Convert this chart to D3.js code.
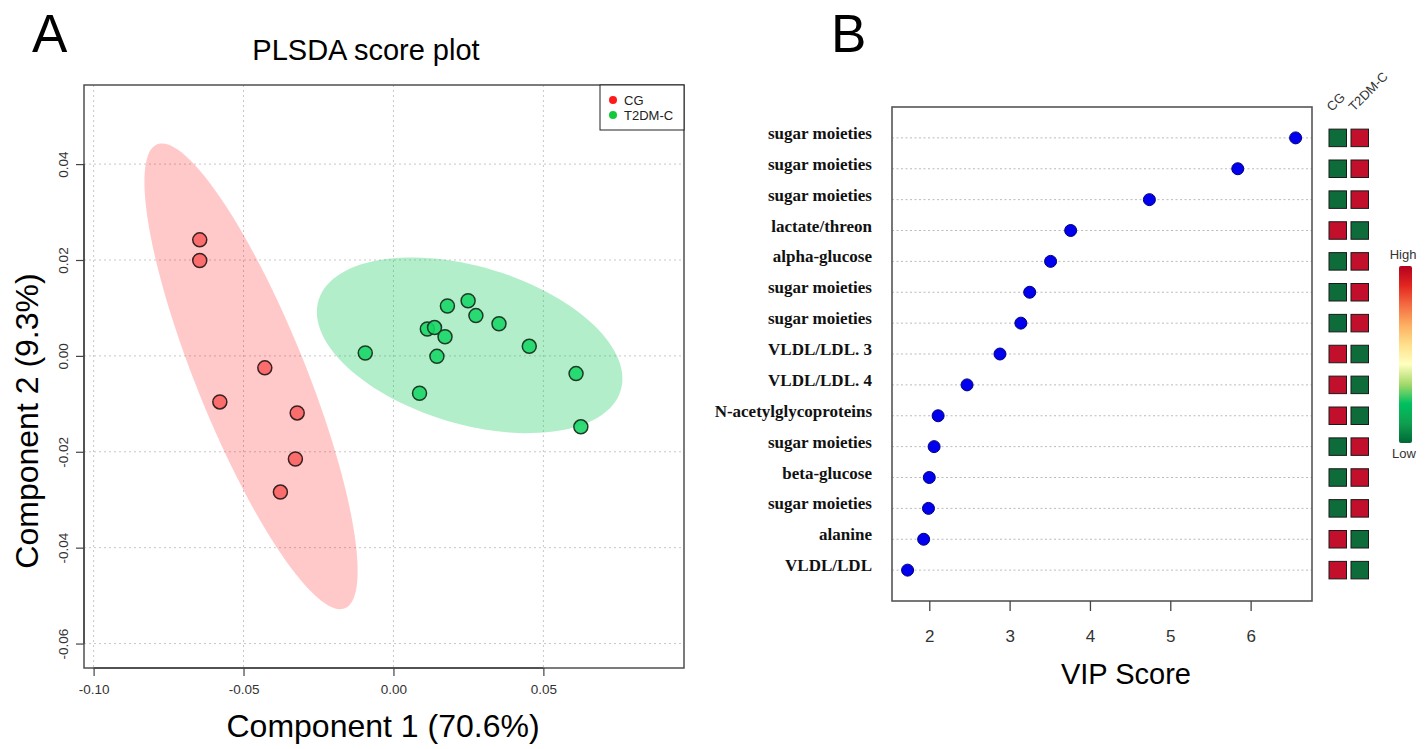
<!DOCTYPE html>
<html><head><meta charset="utf-8">
<script src="https://cdn.jsdelivr.net/npm/d3@7"></script>
<style>body{margin:0;background:#fff} svg{display:block}</style>
</head><body><svg id="c" width="1425" height="749"></svg>
<script>
// ---------- Panel A data (PLS-DA scores) ----------
const groups = ["CG", "T2DM-C"];
const cgX = [-0.0646, -0.0646, -0.0429, -0.0579, -0.0321, -0.0327, -0.0377];
const cgY = [0.0242, 0.0199, -0.0025, -0.0096, -0.0119, -0.0215, -0.0284];
const t2dmX = [-0.0094, 0.0087, 0.0113, 0.0137, 0.0172, 0.0145, 0.0180, 0.0249, 0.0275, 0.0352, 0.0453, 0.0609, 0.0625];
const t2dmY = [0.0006, -0.0078, 0.0056, 0.0059, 0.0040, -0.0001, 0.0104, 0.0115, 0.0084, 0.0067, 0.0020, -0.0037, -0.0148];
const plsXTicks = [-0.10, -0.05, 0.00, 0.05];
const plsYTicks = [-0.06, -0.04, -0.02, 0.00, 0.02, 0.04];
const plsXDomain = [-0.1032, 0.0969];
const plsYDomain = [-0.0651, 0.0565];

// ---------- Panel B data (VIP scores) ----------
const metabolites = ["sugar moieties", "sugar moieties", "sugar moieties", "lactate/threon", "alpha-glucose",
  "sugar moieties", "sugar moieties", "VLDL/LDL. 3", "VLDL/LDL. 4", "N-acetylglycoproteins",
  "sugar moieties", "beta-glucose", "sugar moieties", "alanine", "VLDL/LDL"];
const vipScores = [6.56, 5.84, 4.74, 3.76, 3.51, 3.25, 3.14, 2.88, 2.47, 2.11, 2.06, 2.00, 1.99, 1.93, 1.73];
const cgLevel   = [0, 0, 0, 1, 0, 0, 0, 1, 1, 1, 0, 0, 0, 1, 1];
const t2dmLevel = [1, 1, 1, 0, 1, 1, 1, 0, 0, 0, 1, 1, 1, 0, 0];
const vipTicks = [2, 3, 4, 5, 6];
const vipDomain = [1.536, 6.764];

const svg = d3.select("#c");
const SANS = "'Liberation Sans', Arial, sans-serif";
const SERIF = "'Liberation Serif', 'Times New Roman', serif";

// ================= Panel A =================
const A = {l: 84, r: 684, t: 85, b: 668};
const x = d3.scaleLinear().domain(plsXDomain).range([A.l, A.r]);
const y = d3.scaleLinear().domain(plsYDomain).range([A.b, A.t]);

svg.append("text").attr("x", 32).attr("y", 52).attr("font-family", SANS)
  .attr("font-size", 53).text("A");
svg.append("text").attr("x", 366).attr("y", 60).attr("text-anchor", "middle")
  .attr("font-family", SANS).attr("font-size", 29).text("PLSDA score plot");

// grid
const gA = svg.append("g");
gA.selectAll(".gx").data(plsXTicks).join("line")
  .attr("x1", d => x(d)).attr("x2", d => x(d)).attr("y1", A.t).attr("y2", A.b)
  .attr("stroke", "#c8c8c8").attr("stroke-dasharray", "2,3");
gA.selectAll(".gy").data(plsYTicks).join("line")
  .attr("x1", A.l).attr("x2", A.r).attr("y1", d => y(d)).attr("y2", d => y(d))
  .attr("stroke", "#c8c8c8").attr("stroke-dasharray", "2,3");

// 95% confidence ellipses
function ellipsePts(xs, ys, n = 120) {
  const mx = d3.mean(xs), my = d3.mean(ys), k = xs.length;
  let sxx = 0, syy = 0, sxy = 0;
  for (let i = 0; i < k; i++) {
    const dx = xs[i] - mx, dy = ys[i] - my;
    sxx += dx * dx; syy += dy * dy; sxy += dx * dy;
  }
  sxx /= (k - 1); syy /= (k - 1); sxy /= (k - 1);
  const tr = sxx + syy, det = sxx * syy - sxy * sxy;
  const disc = Math.sqrt(Math.max(0, tr * tr / 4 - det));
  const l1 = tr / 2 + disc, l2 = Math.max(0, tr / 2 - disc);
  let vx = l1 - syy, vy = sxy;
  const nn = Math.hypot(vx, vy) || 1; vx /= nn; vy /= nn;
  const t = Math.sqrt(5.991464547);
  const a = t * Math.sqrt(l1), b = t * Math.sqrt(l2);
  const pts = [];
  for (let i = 0; i < n; i++) {
    const th = 2 * Math.PI * i / n;
    const c = Math.cos(th), s = Math.sin(th);
    pts.push([mx + a * c * vx - b * s * vy, my + a * c * vy + b * s * vx]);
  }
  return pts;
}
const line = d3.line().x(d => x(d[0])).y(d => y(d[1])).curve(d3.curveLinearClosed);
gA.append("path").attr("d", line(ellipsePts(cgX, cgY))).attr("fill", "rgba(255,0,0,0.21)");
gA.append("path").attr("d", line(ellipsePts(t2dmX, t2dmY))).attr("fill", "rgba(0,200,80,0.30)");

// points
const cgPts = cgX.map((v, i) => [v, cgY[i]]);
const t2Pts = t2dmX.map((v, i) => [v, t2dmY[i]]);
gA.selectAll(".pc").data(cgPts).join("circle")
  .attr("cx", d => x(d[0])).attr("cy", d => y(d[1])).attr("r", 7)
  .attr("fill", "#fb6d6d").attr("stroke", "#3a2020").attr("stroke-width", 1.5);
gA.selectAll(".pt").data(t2Pts).join("circle")
  .attr("cx", d => x(d[0])).attr("cy", d => y(d[1])).attr("r", 7)
  .attr("fill", "rgba(20,215,100,0.88)").attr("stroke", "#1f3a26").attr("stroke-width", 1.5);

// frame
svg.append("rect").attr("x", A.l).attr("y", A.t).attr("width", A.r - A.l).attr("height", A.b - A.t)
  .attr("fill", "none").attr("stroke", "#444").attr("stroke-width", 1.4);

// axes
const fmt = d => d3.format(".2f")(d).replace("−", "-");
const axB = svg.append("g").attr("transform", `translate(0,${A.b})`)
  .call(d3.axisBottom(x).tickValues(plsXTicks).tickFormat(fmt).tickSize(8).tickPadding(8));
axB.select(".domain").attr("d", `M${x(plsXTicks[0])},0H${x(plsXTicks[plsXTicks.length - 1])}`).attr("stroke", "#444").attr("stroke-width", 1.4);
axB.selectAll(".tick line").attr("stroke", "#444").attr("stroke-width", 1.2);
axB.selectAll("text").attr("font-family", SANS).attr("font-size", 13.5).attr("fill", "#333");

const axL = svg.append("g").attr("transform", `translate(${A.l},0)`)
  .call(d3.axisLeft(y).tickValues(plsYTicks).tickFormat(fmt).tickSize(8).tickPadding(6));
axL.select(".domain").attr("d", `M0,${y(plsYTicks[0])}V${y(plsYTicks[plsYTicks.length - 1])}`).attr("stroke", "#444").attr("stroke-width", 1.4);
axL.selectAll(".tick line").attr("stroke", "#444").attr("stroke-width", 1.2);
axL.selectAll("text").attr("font-family", SANS).attr("font-size", 13.5).attr("fill", "#333")
  .attr("transform", "rotate(-90)").attr("x", 0).attr("y", -16.5).attr("dy", 0)
  .attr("text-anchor", "middle");

// axis titles
svg.append("text").attr("x", 383).attr("y", 737).attr("text-anchor", "middle")
  .attr("font-family", SANS).attr("font-size", 32).text("Component 1 (70.6%)");
svg.append("text").attr("transform", "translate(38,421) rotate(-90)").attr("text-anchor", "middle")
  .attr("font-family", SANS).attr("font-size", 32).text("Component 2 (9.3%)");

// legend
const leg = svg.append("g");
leg.append("rect").attr("x", 600).attr("y", A.t).attr("width", A.r - 600).attr("height", 45)
  .attr("fill", "#fff").attr("stroke", "#222").attr("stroke-width", 1);
const legCols = ["#ff1a1a", "#12c93c"];
groups.forEach((g, i) => {
  leg.append("circle").attr("cx", 613).attr("cy", A.t + 15 + i * 15).attr("r", 4).attr("fill", legCols[i]);
  leg.append("text").attr("x", 624).attr("y", A.t + 15 + i * 15).attr("dy", "0.35em")
    .attr("font-family", SANS).attr("font-size", 13).attr("fill", "#222").text(g);
});

// ================= Panel B =================
const B = {l: 892, r: 1312, t: 107, b: 601};
const vx = d3.scaleLinear().domain(vipDomain).range([B.l, B.r]);
const vy = d3.scaleLinear().domain([0, metabolites.length + 1]).range([B.b, B.t]);
const rowY = i => vy(metabolites.length - i);

svg.append("text").attr("x", 831).attr("y", 52).attr("font-family", SANS)
  .attr("font-size", 53).text("B");

const gB = svg.append("g");
gB.selectAll(".rl").data(metabolites).join("line")
  .attr("x1", B.l).attr("x2", B.r).attr("y1", (d, i) => rowY(i)).attr("y2", (d, i) => rowY(i))
  .attr("stroke", "#bbb").attr("stroke-dasharray", "2,2.5");
gB.selectAll(".lab").data(metabolites).join("text")
  .attr("x", 872).attr("y", (d, i) => rowY(i) + 1).attr("text-anchor", "end")
  .attr("font-family", SERIF).attr("font-weight", "bold").attr("font-size", 17).attr("fill", "#111")
  .text(d => d);
gB.selectAll(".dot").data(vipScores).join("circle")
  .attr("cx", d => vx(d)).attr("cy", (d, i) => rowY(i)).attr("r", 6)
  .attr("fill", "#0000ee").attr("stroke", "#00007a").attr("stroke-width", 1);
svg.append("rect").attr("x", B.l).attr("y", B.t).attr("width", B.r - B.l).attr("height", B.b - B.t)
  .attr("fill", "none").attr("stroke", "#555").attr("stroke-width", 1.6);

const axV = svg.append("g").attr("transform", `translate(0,${B.b})`)
  .call(d3.axisBottom(vx).tickValues(vipTicks).tickFormat(d3.format("d")).tickSize(10).tickPadding(19));
axV.select(".domain").remove();
axV.selectAll(".tick line").attr("stroke", "#444").attr("stroke-width", 1.3);
axV.selectAll("text").attr("font-family", SANS).attr("font-size", 17).attr("fill", "#333");
svg.append("text").attr("x", 1126).attr("y", 684).attr("text-anchor", "middle")
  .attr("font-family", SANS).attr("font-size", 29).text("VIP Score");

// heat squares
const heatCols = ["#0e6b3a", "#c20f2c"];
const cellX = [1329, 1351], cell = 17.5;
[cgLevel, t2dmLevel].forEach((lv, j) => {
  gB.selectAll(".h" + j).data(lv).join("rect")
    .attr("x", cellX[j]).attr("y", (d, i) => rowY(i) - cell / 2)
    .attr("width", cell).attr("height", cell)
    .attr("fill", d => heatCols[d]).attr("stroke", "#1a1a1a").attr("stroke-width", 1);
});
groups.forEach((g, j) => {
  svg.append("text").attr("transform", `translate(${cellX[j] + 3},${112}) rotate(-45)`)
    .attr("font-family", SANS).attr("font-size", 13).attr("fill", "#333").text(g);
});

// color bar
const defs = svg.append("defs");
const grad = defs.append("linearGradient").attr("id", "rdylgn").attr("x1", 0).attr("x2", 0).attr("y1", 1).attr("y2", 0);
const stops = ["#006837", "#0fa04f", "#00c060", "#a6d96a", "#ffffbf", "#fee08b", "#fdae61", "#f46d43", "#e3261f", "#b4001e"];
stops.forEach((c, i) => grad.append("stop").attr("offset", i / (stops.length - 1)).attr("stop-color", c));
svg.append("rect").attr("x", 1399).attr("y", 266).attr("width", 13).attr("height", 177)
  .attr("rx", 2).attr("fill", "url(#rdylgn)");
svg.append("text").attr("x", 1403).attr("y", 254).attr("dy", "0.35em").attr("text-anchor", "middle")
  .attr("font-family", SANS).attr("font-size", 13).attr("fill", "#333").text("High");
svg.append("text").attr("x", 1404).attr("y", 453).attr("dy", "0.35em").attr("text-anchor", "middle")
  .attr("font-family", SANS).attr("font-size", 13).attr("fill", "#333").text("Low");
</script>
</body></html>
